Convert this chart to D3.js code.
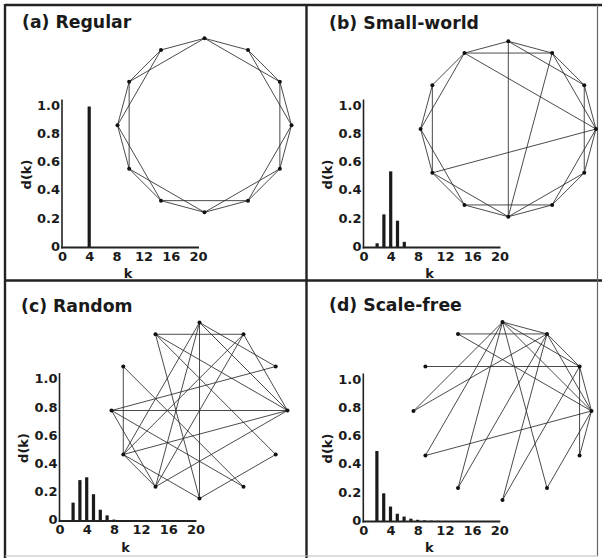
<!DOCTYPE html>
<html>
<head>
<meta charset="utf-8">
<script src="https://cdn.jsdelivr.net/npm/d3@7"></script>
<style>
  html, body { margin: 0; padding: 0; background: #ffffff; }
  svg { display: block; }
  text { font-family: "DejaVu Sans", sans-serif; font-weight: bold; fill: #1a1a1a; }
</style>
</head>
<body>
<script>
// ---------------- data ----------------
const titles = ["(a) Regular", "(b) Small-world", "(c) Random", "(d) Scale-free"];

const xTickValues = [0, 4, 8, 12, 16, 20];
const yTickValues = [0, 0.2, 0.4, 0.6, 0.8, 1.0];
const xAxisTitle = "k";
const yAxisTitle = "d(k)";

// degree distributions d(k)
const regularK = [4];
const regularD = [1.0];
const smallWorldK = [2, 3, 4, 5, 6];
const smallWorldD = [0.03, 0.235, 0.54, 0.19, 0.04];
const randomK = [2, 3, 4, 5, 6, 7, 8];
const randomD = [0.13, 0.29, 0.31, 0.19, 0.08, 0.04, 0.01];
const scaleFreeK = [2, 3, 4, 5, 6, 7, 8, 9, 10, 11, 12, 13];
const scaleFreeD = [0.50, 0.20, 0.106, 0.055, 0.035, 0.02, 0.012, 0.008, 0.006, 0.005, 0.004, 0.003];

// networks: 12 nodes, node 0 at top, numbered clockwise
const nodeCount = 12;
const regularEdges = [
  [0,1],[1,2],[2,3],[3,4],[4,5],[5,6],[6,7],[7,8],[8,9],[9,10],[10,11],[11,0],
  [0,2],[1,3],[2,4],[3,5],[4,6],[5,7],[6,8],[7,9],[8,10],[9,11],[10,0]
];
const smallWorldEdges = [
  [0,1],[0,11],[0,6],[0,2],[11,1],[11,3],[11,10],[11,9],[1,6],[1,2],[1,3],
  [2,3],[2,4],[3,4],[3,5],[3,8],[4,5],[4,6],[5,6],[5,7],[6,7],[6,8],
  [7,8],[7,9],[8,9],[8,10],[9,10]
];
const randomEdges = [
  [11,1],[0,6],[9,3],[10,8],[1,8],[11,3],[11,4],[11,6],[0,8],[0,7],[0,3],
  [10,5],[2,9],[3,8],[3,7],[1,3],[9,7],[9,5],[8,6],[8,7],[7,1],[4,6],[0,2]
];
const scaleFreeEdges = [
  [0,1],[0,2],[0,3],[0,9],[0,8],[0,7],[0,5],
  [1,11],[1,9],[1,7],[1,6],[1,2],[1,3],
  [2,10],[2,3],[2,4],[2,6],
  [3,11],[3,8],[3,4],[3,5]
];

// ---------------- layout ----------------
const W = 602, H = 558;
const layout = [
  { tx: 22,  ty: 28,  ax: 62,    ay: 247.5, cx: 204.5, cy: 125.3, r: 87 },
  { tx: 329, ty: 29,  ax: 363.5, ay: 247.5, cx: 508.3, cy: 129,   r: 87.7 },
  { tx: 21,  ty: 312, ax: 59.5,  ay: 521,   cx: 199.5, cy: 410.5, r: 88 },
  { tx: 329, ty: 311, ax: 363.3, ay: 521.5, cx: 502.5, cy: 411,   r: 89 }
];
const dists = [[regularK, regularD], [smallWorldK, smallWorldD], [randomK, randomD], [scaleFreeK, scaleFreeD]];
const edgeSets = [regularEdges, smallWorldEdges, randomEdges, scaleFreeEdges];

const svg = d3.select("body").append("svg").attr("width", W).attr("height", H);
svg.append("rect").attr("width", W).attr("height", H).attr("fill", "#ffffff");

// frame
const frame = svg.append("g").attr("stroke", "#222").attr("fill", "none");
frame.append("line").attr("x1", 5).attr("y1", 5).attr("x2", 602).attr("y2", 5).attr("stroke-width", 2.4);
frame.append("line").attr("x1", 5).attr("y1", 4).attr("x2", 5).attr("y2", 558).attr("stroke-width", 2.4);
frame.append("line").attr("x1", 306.5).attr("y1", 5).attr("x2", 306.5).attr("y2", 558).attr("stroke-width", 2.4);
frame.append("line").attr("x1", 5).attr("y1", 280.5).attr("x2", 602).attr("y2", 280.5).attr("stroke-width", 2.4);
frame.append("line").attr("x1", 597.5).attr("y1", 5).attr("x2", 597.5).attr("y2", 556).attr("stroke-width", 1.2).attr("stroke", "#666");
frame.append("line").attr("x1", 5).attr("y1", 556).attr("x2", 598).attr("y2", 556).attr("stroke-width", 1).attr("stroke", "#bbb");

const nodeIdx = d3.range(nodeCount);

layout.forEach((L, p) => {
  const g = svg.append("g");

  // title
  g.append("text").attr("x", L.tx).attr("y", L.ty).attr("font-size", 17.3).text(titles[p]);

  // ----- network -----
  const ang = d3.scaleLinear().domain([0, nodeCount]).range([0, 2 * Math.PI]);
  const px = i => L.cx + L.r * Math.sin(ang(i));
  const py = i => L.cy - L.r * Math.cos(ang(i));
  g.append("g").selectAll("line").data(edgeSets[p]).join("line")
    .attr("x1", d => px(d[0])).attr("y1", d => py(d[0]))
    .attr("x2", d => px(d[1])).attr("y2", d => py(d[1]))
    .attr("stroke", "#2b2b2b").attr("stroke-width", 0.85);
  g.append("g").selectAll("circle").data(nodeIdx).join("circle")
    .attr("cx", d => px(d)).attr("cy", d => py(d)).attr("r", 2)
    .attr("fill", "#111");

  // ----- histogram -----
  const x = d3.scaleLinear().domain([0, 20]).range([L.ax, L.ax + 136]);
  const y = d3.scaleLinear().domain([0, 1]).range([L.ay, L.ay - 141]);
  const [ks, ds] = dists[p];

  g.append("g").selectAll("rect").data(ks.map((k, i) => ({ k, d: ds[i] }))).join("rect")
    .attr("x", d => x(d.k) - 1.6).attr("width", 3.2)
    .attr("y", d => y(d.d)).attr("height", d => L.ay - y(d.d))
    .attr("fill", "#1a1a1a");

  // axis lines
  g.append("line").attr("x1", L.ax).attr("x2", L.ax).attr("y1", L.ay + 1).attr("y2", L.ay - 148)
    .attr("stroke", "#222").attr("stroke-width", 1.6);
  g.append("line").attr("x1", L.ax - 0.8).attr("x2", x(20) + 1).attr("y1", L.ay).attr("y2", L.ay)
    .attr("stroke", "#222").attr("stroke-width", 2);

  const yAxis = d3.axisLeft(y).tickValues(yTickValues).tickSize(0).tickPadding(2)
    .tickFormat(v => v === 0 ? "0" : d3.format(".1f")(v));
  const ya = g.append("g").attr("transform", `translate(${L.ax},0)`).call(yAxis);
  ya.select(".domain").remove();
  ya.selectAll("text").attr("font-family", "DejaVu Sans").attr("font-weight", "bold")
    .attr("font-size", 13).attr("fill", "#1a1a1a").attr("dy", "0.22em");

  const xAxis = d3.axisBottom(x).tickValues(xTickValues).tickSize(0).tickPadding(4);
  const xa = g.append("g").attr("transform", `translate(0,${L.ay})`).call(xAxis);
  xa.select(".domain").remove();
  xa.selectAll("text").attr("font-family", "DejaVu Sans").attr("font-weight", "bold")
    .attr("font-size", 13).attr("fill", "#1a1a1a");

  g.append("text").attr("x", L.ax + 66).attr("y", L.ay + 30.5).attr("text-anchor", "middle")
    .attr("font-size", 13).text(xAxisTitle);
  g.append("text")
    .attr("transform", `translate(${L.ax - 36},${L.ay - 73}) rotate(-90)`)
    .attr("text-anchor", "middle").attr("dominant-baseline", "central")
    .attr("font-size", 13).text(yAxisTitle);
});
</script>
</body>
</html>
